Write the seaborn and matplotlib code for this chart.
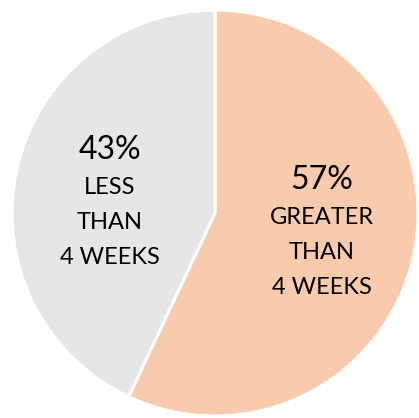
import matplotlib
matplotlib.use("Agg")
import matplotlib.pyplot as plt
import seaborn as sns
import numpy as np

# Share of cases by duration
categories = ["GREATER\nTHAN\n4 WEEKS", "LESS\nTHAN\n4 WEEKS"]
shares = [57, 43]
colors = ["#F8CBAD", "#E7E6E6"]

sns.set_style("white")
plt.rcParams["font.family"] = ["Lato", "DejaVu Sans"]

W, H = 419, 418
fig = plt.figure(figsize=(W / 100, H / 100), dpi=100)
ax = fig.add_axes([0, 0, 1, 1])

# pie geometry in pixels
cx, cy_top, r = 215, 213, 203
cy = H - cy_top

wedges, _ = ax.pie(
    shares,
    colors=colors,
    startangle=90,
    counterclock=False,
    radius=1.0,
    wedgeprops=dict(edgecolor="white", linewidth=2.2),
)

ax.set_xlim(-cx / r, (W - cx) / r)
ax.set_ylim(-cy / r, (H - cy) / r)
ax.set_aspect("auto")
ax.axis("off")

# label placement (pixel centres) for each slice
label_px = [(322, 180), (110, 150)]
line_gap = 35.5
for share, cat, (px, py) in zip(shares, categories, label_px):
    x = (px - cx) / r
    y = (cy_top - py) / r
    ax.text(x, y, f"{share}%", ha="center", va="center", fontsize=23, color="black")
    for i, line in enumerate(cat.split("\n")):
        yy = (cy_top - (py + 37 + line_gap * i)) / r
        ax.text(x, yy, line, ha="center", va="center", fontsize=17, color="black")

fig.savefig("out.png", dpi=100)
